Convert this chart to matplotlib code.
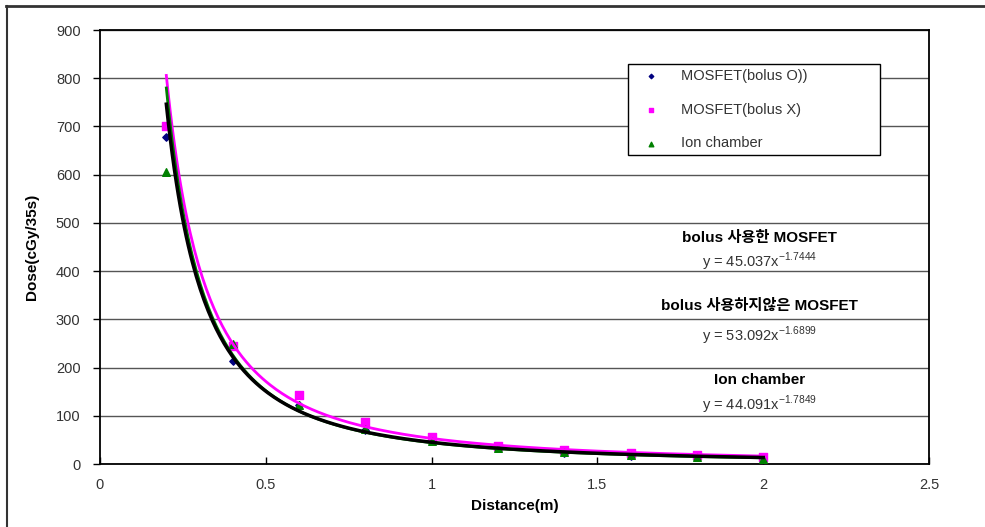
import numpy as np
import matplotlib
matplotlib.use("Agg")
import matplotlib.pyplot as plt
from matplotlib.lines import Line2D

plt.rcParams['font.family'] = ['Liberation Sans', 'Noto Sans CJK KR', 'DejaVu Sans']

# measured points
distance = [0.2, 0.4, 0.6, 0.8, 1.0, 1.2, 1.4, 1.6, 1.8, 2.0]
mosfet_bolus_o = [678, 213, 122, 70, 48, 35, 22, 17, 15, 12]
mosfet_bolus_x = [700, 245, 143, 87, 57, 38, 28, 23, 18, 14]
ion_chamber = [606, 248, 122, 72, 47, 33, 24, 18, 14, 11]

# power-law trend lines shown on the chart: y = a * x^b
fit_bolus_o = (45.037, -1.7444)
fit_bolus_x = (53.092, -1.6899)
fit_ion = (44.091, -1.7849)

legend_labels = ["MOSFET(bolus O))", "MOSFET(bolus X)", "Ion chamber"]

fig = plt.figure(figsize=(9.85, 5.27), dpi=100)
ax = fig.add_axes([100 / 985, 1 - 464 / 527, 829 / 985, 434 / 527])

# outer frame (only top and left visible)
fig.add_artist(Line2D([6 / 985, 1], [1 - 6 / 527, 1 - 6 / 527], color="#333333", lw=2, transform=fig.transFigure))
fig.add_artist(Line2D([7 / 985, 7 / 985], [0, 1 - 6 / 527], color="#333333", lw=1.5, transform=fig.transFigure))

xs = np.linspace(distance[0], distance[-1], 300)

ax.scatter(distance, mosfet_bolus_o, marker="D", s=14, color="#000080", zorder=3, label=legend_labels[0])
ax.scatter(distance, mosfet_bolus_x, marker="s", s=30, color="#ff00ff", zorder=3, label=legend_labels[1])
ax.scatter(distance, ion_chamber, marker="^", s=30, color="#008000", zorder=3, label=legend_labels[2])

ax.plot(xs, fit_bolus_x[0] * xs ** fit_bolus_x[1], color="#ff00ff", lw=2, zorder=4)
ax.plot(xs, fit_ion[0] * xs ** fit_ion[1], color="#008000", lw=2, zorder=4)
ax.plot(xs, fit_bolus_o[0] * xs ** fit_bolus_o[1], color="black", lw=2.5, zorder=5)

ax.set_xlim(0, 2.5)
ax.set_ylim(0, 900)
ax.set_xticks([0, 0.5, 1, 1.5, 2, 2.5])
ax.set_xticklabels(["0", "0.5", "1", "1.5", "2", "2.5"])
ax.set_yticks(range(0, 901, 100))
ax.yaxis.grid(True, color="#555555", lw=1)
ax.set_axisbelow(True)
ax.tick_params(axis="y", direction="out", length=5, width=1, labelsize=10.5, labelcolor="#333333", pad=9)
ax.tick_params(axis="x", direction="in", length=5, width=1, labelsize=10.5, labelcolor="#333333", pad=10)
for s in ax.spines.values():
    s.set_linewidth(1.3)

ax.set_xlabel("Distance(m)", fontsize=11, fontweight="bold", labelpad=5)
ax.set_ylabel("Dose(cGy/35s)", fontsize=11, fontweight="bold", labelpad=12)

leg = ax.legend(loc="upper left", bbox_to_anchor=(0.637, 0.698, 0.304, 0.224), mode="expand",
                frameon=True, fancybox=False, edgecolor="black", fontsize=10.5,
                labelspacing=1.35, borderpad=0.35, handletextpad=0.9, borderaxespad=0,
                handlelength=2.4, markerscale=0.6)
leg.get_frame().set_linewidth(1)
leg.get_frame().set_alpha(1)
for t in leg.get_texts():
    t.set_color("#333333")

cx = 0.796
ax.text(cx, 0.521, "bolus 사용한 MOSFET", transform=ax.transAxes, ha="center", va="center",
        fontsize=11, fontweight="bold")
ax.text(cx, 0.465, r"y = 45.037x$^{\mathregular{-1.7444}}$", transform=ax.transAxes, ha="center",
        va="center", fontsize=10.5, color="#333333")
ax.text(cx, 0.364, "bolus 사용하지않은 MOSFET", transform=ax.transAxes, ha="center", va="center",
        fontsize=11, fontweight="bold")
ax.text(cx, 0.295, r"y = 53.092x$^{\mathregular{-1.6899}}$", transform=ax.transAxes, ha="center",
        va="center", fontsize=10.5, color="#333333")
ax.text(cx, 0.194, "Ion chamber", transform=ax.transAxes, ha="center", va="center",
        fontsize=11, fontweight="bold")
ax.text(cx, 0.136, r"y = 44.091x$^{\mathregular{-1.7849}}$", transform=ax.transAxes, ha="center",
        va="center", fontsize=10.5, color="#333333")

fig.savefig("out.png", dpi=100)
